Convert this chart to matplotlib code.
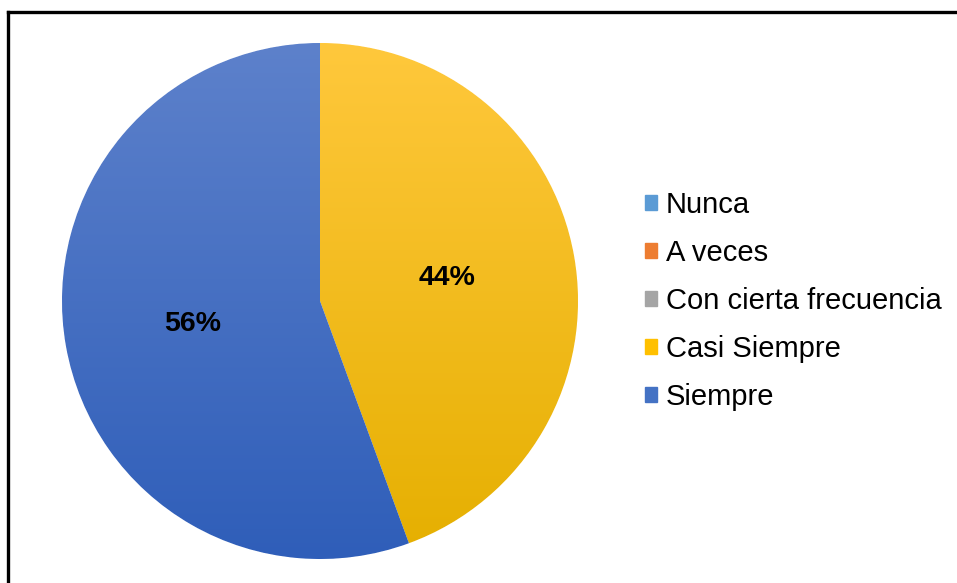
import matplotlib
matplotlib.use("Agg")
import matplotlib.pyplot as plt
import matplotlib.patches as mpatches
from matplotlib.colors import LinearSegmentedColormap
from matplotlib.lines import Line2D
import numpy as np

plt.rcParams["font.family"] = ["Liberation Sans", "DejaVu Sans"]

categories = ["Nunca", "A veces", "Con cierta frecuencia", "Casi Siempre", "Siempre"]
values = [0, 0, 0, 44.4, 55.6]
colors = ["#5B9BD5", "#ED7D31", "#A5A5A5", "#FFC000", "#4472C4"]
# top / bottom shades for the gradient fill
grad_top = {"Casi Siempre": "#FFC83C", "Siempre": "#5D81CB"}
grad_bot = {"Casi Siempre": "#E5AF00", "Siempre": "#2F5EB9"}

fig = plt.figure(figsize=(9.57, 5.83), dpi=100)
ax = fig.add_axes([62 / 957, 24 / 583, 516 / 957, 516 / 583])


def fmt(p):
    return f"{p:.0f}%" if p > 0 else ""


wedges, texts, autotexts = ax.pie(
    values, colors=colors, startangle=90, counterclock=False,
    autopct=fmt, pctdistance=0.5,
    wedgeprops=dict(edgecolor="white", linewidth=0.8),
    textprops=dict(fontsize=20.5, fontweight="bold", color="black"),
)

# vertical gradient clipped to each visible wedge
for w, cat, v in zip(wedges, categories, values):
    if v == 0 or cat not in grad_top:
        continue
    cmap = LinearSegmentedColormap.from_list(cat, [grad_bot[cat], grad_top[cat]])
    grad = np.linspace(0, 1, 256).reshape(-1, 1)
    im = ax.imshow(grad, cmap=cmap, extent=[-1, 1, -1, 1], origin="lower",
                   aspect="auto", zorder=w.get_zorder() + 0.1)
    im.set_clip_path(w)
for t in autotexts:
    t.set_zorder(5)

ax.set_xlim(-1.0, 1.0)
ax.set_ylim(-1.0, 1.0)
ax.set_aspect("equal")
ax.axis("off")

handles = [mpatches.Patch(color=c, label=l) for c, l in zip(colors, categories)]
fig.legend(handles=handles, loc="center left", bbox_to_anchor=(645 / 957, 1 - 301 / 583),
           frameon=False, fontsize=21, handlelength=0.42, handleheight=0.42,
           handletextpad=0.3, labelspacing=0.69, borderaxespad=0, borderpad=0)

# partial frame (top and left edges)
fig.add_artist(Line2D([8 / 957, 1.0], [1 - 12 / 583, 1 - 12 / 583],
                      transform=fig.transFigure, color="black", linewidth=2.4))
fig.add_artist(Line2D([8 / 957, 8 / 957], [0.0, 1 - 12 / 583],
                      transform=fig.transFigure, color="black", linewidth=2.4))

fig.savefig("out.png", dpi=100)
